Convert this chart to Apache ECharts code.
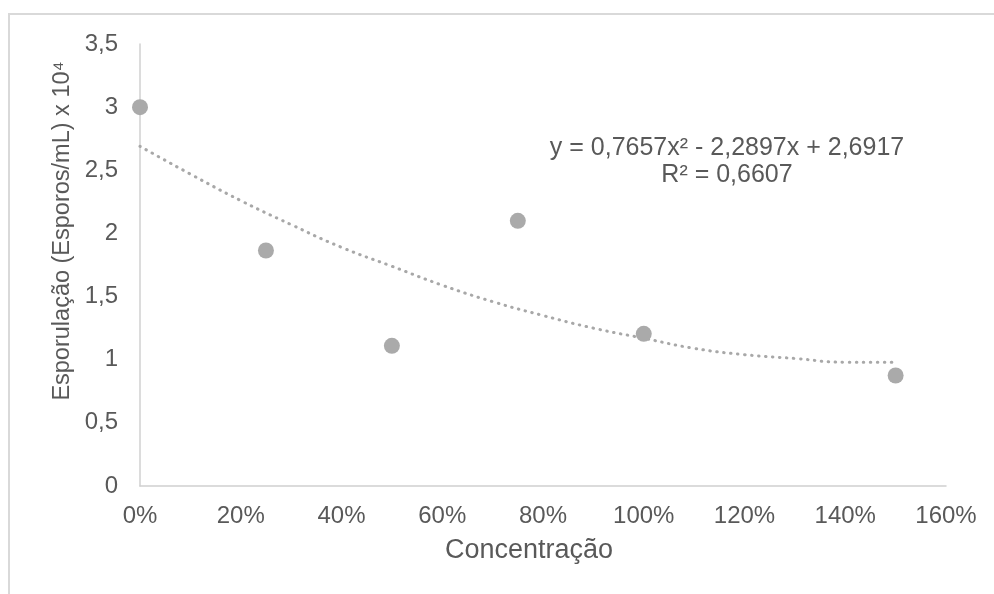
<!DOCTYPE html>
<html>
<head>
<meta charset="utf-8">
<script src="https://cdn.jsdelivr.net/npm/echarts@6/dist/echarts.min.js"></script>
<style>html,body{margin:0;padding:0;background:#fff}#c{width:994px;height:594px}</style>
</head>
<body>
<div id="c"></div>
<script>
var concentracao = [0, 0.25, 0.5, 0.75, 1.0, 1.5];
var esporulacao = [3.0, 1.865, 1.11, 2.10, 1.205, 0.875];
var trendX = [0, 0.1, 0.2, 0.3, 0.4, 0.5, 0.6, 0.7, 0.8, 0.9, 1.0, 1.1, 1.2, 1.3, 1.4, 1.5];
var trendY = [2.69, 2.47, 2.26, 2.07, 1.89, 1.74, 1.59, 1.46, 1.35, 1.25, 1.17, 1.09, 1.04, 1.01, 0.98, 0.98];
var xTitle = 'Concentração';
var yTitle = 'Esporulação (Esporos/mL) x 10⁴';
var eqLine1 = 'y = 0,7657x² - 2,2897x + 2,6917';
var eqLine2 = 'R² = 0,6607';

var FONT = '"Liberation Sans", Arial, sans-serif';
var TXT = '#595959';
var chart = echarts.init(document.getElementById('c'), null, {renderer: 'canvas'});
chart.setOption({
  animation: false,
  backgroundColor: '#fff',
  grid: {left: 140, right: 48, top: 44, bottom: 108, containLabel: false},
  xAxis: {
    type: 'value', min: 0, max: 1.6, interval: 0.2,
    axisLine: {show: true, lineStyle: {color: '#d0d0d0', width: 1.5}},
    axisTick: {show: false},
    splitLine: {show: false},
    axisLabel: {color: TXT, fontSize: 24, fontFamily: FONT, margin: 18,
      formatter: function (v) { return Math.round(v * 100) + '%'; }}
  },
  yAxis: {
    type: 'value', min: 0, max: 3.5, interval: 0.5,
    axisLine: {show: true, lineStyle: {color: '#d0d0d0', width: 1.5}},
    axisTick: {show: false},
    splitLine: {show: false},
    axisLabel: {color: TXT, fontSize: 24, fontFamily: FONT, margin: 22,
      formatter: function (v) { return String(v).replace('.', ','); }}
  },
  series: [
    {
      type: 'line', data: trendX.map(function (x, i) { return [x, trendY[i]]; }),
      smooth: true, symbol: 'none', silent: true, z: 1,
      lineStyle: {color: '#a8a8a8', width: 3, type: [0.5, 6.5], cap: 'round'}
    },
    {
      type: 'scatter', data: concentracao.map(function (x, i) { return [x, esporulacao[i]]; }),
      symbol: 'circle', symbolSize: 16, z: 2,
      itemStyle: {color: '#aaaaaa', opacity: 1}
    }
  ],
  graphic: [
    {type: 'rect', shape: {x: 9, y: 14, width: 1000, height: 600}, style: {fill: 'none', stroke: '#d9d9d9', lineWidth: 2}, z: -1},
    {type: 'text', x: 727, y: 148, style: {text: eqLine1, fill: TXT, font: '25px ' + FONT, textAlign: 'center', textVerticalAlign: 'middle'}},
    {type: 'text', x: 727, y: 175, style: {text: eqLine2, fill: TXT, font: '25px ' + FONT, textAlign: 'center', textVerticalAlign: 'middle'}},
    {type: 'text', x: 529, y: 551, style: {text: xTitle, fill: TXT, font: '27px ' + FONT, textAlign: 'center', textVerticalAlign: 'middle'}},
    {type: 'text', x: 63, y: 231, rotation: Math.PI / 2, style: {text: yTitle, fill: TXT, font: '23.5px ' + FONT, textAlign: 'center', textVerticalAlign: 'middle'}}
  ]
});
</script>
</body>
</html>
